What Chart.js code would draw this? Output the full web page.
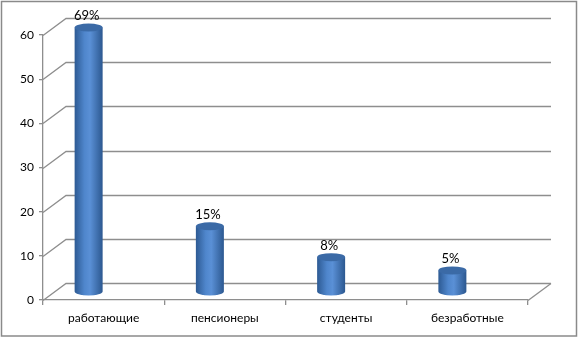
<!DOCTYPE html>
<html>
<head>
<meta charset="utf-8">
<script src="https://cdn.jsdelivr.net/npm/chart.js@4"></script>
<style>
  html, body { margin: 0; padding: 0; background: #fff; }
  #wrap { width: 578px; height: 338px; }
</style>
</head>
<body>
<div id="wrap"><canvas id="chart" width="578" height="338"></canvas></div>
<script>
// data
const categories = ['работающие', 'пенсионеры', 'студенты', 'безработные'];
const values = [69, 15, 8, 5];
const yMax = 60;
const yStep = 10;

const FONT = 'Lato, "Open Sans", sans-serif';
const GRID = '#8e8e8e';
const DX = 23, DY = -17;      // depth offset of the back wall
const BAR_SHIFT = -15, BAR_W = 28;

// 3D walls, gridlines and floor
const wallsPlugin = {
  id: 'walls',
  beforeDatasetsDraw(chart) {
    const { ctx, chartArea: a, scales: { y } } = chart;
    ctx.save();
    ctx.strokeStyle = GRID;
    ctx.lineWidth = 1.3;
    y.ticks.forEach(t => {
      const py = Math.round(y.getPixelForValue(t.value)) + 0.5;
      ctx.beginPath();
      ctx.moveTo(a.left, py);
      ctx.lineTo(a.left + DX, py + DY);
      ctx.lineTo(a.right + DX, py + DY);
      ctx.stroke();
    });
    // right edge of floor
    ctx.beginPath();
    ctx.moveTo(a.right, a.bottom + 0.5);
    ctx.lineTo(a.right + DX, a.bottom + DY + 0.5);
    ctx.stroke();
    ctx.restore();
  }
};

// cylinders and percent labels
const cylPlugin = {
  id: 'cylinders',
  afterDatasetsDraw(chart) {
    const { ctx, scales: { x, y } } = chart;
    const ry = 4;
    ctx.save();
    values.forEach((v, i) => {
      const cx = x.getPixelForValue(i) + BAR_SHIFT;
      const left = cx - BAR_W / 2, right = cx + BAR_W / 2;
      const yb = y.getPixelForValue(0) + DY / 2;
      const yt = y.getPixelForValue(Math.min(v, yMax)) + DY / 2 + 1;
      const g = ctx.createLinearGradient(left, 0, right, 0);
      g.addColorStop(0, '#2d5a93');
      g.addColorStop(0.35, '#4f86cc');
      g.addColorStop(0.55, '#5a90d6');
      g.addColorStop(1, '#2c5890');
      ctx.fillStyle = g;
      ctx.beginPath();
      ctx.moveTo(left, yt);
      ctx.lineTo(left, yb);
      ctx.ellipse(cx, yb, BAR_W / 2, ry, 0, Math.PI, 0, true);
      ctx.lineTo(right, yt);
      ctx.closePath();
      ctx.fill();
      // top cap
      ctx.fillStyle = '#3b6aa6';
      ctx.beginPath();
      ctx.ellipse(cx, yt, BAR_W / 2, ry, 0, 0, Math.PI * 2);
      ctx.fill();
      // label
      ctx.fillStyle = '#000';
      ctx.font = '13px ' + FONT;
      ctx.textAlign = 'center';
      ctx.textBaseline = 'bottom';
      ctx.fillText(v + '%', cx - 2, yt - 5);
    });
    ctx.restore();
  },
  afterDraw(chart) {
    const { ctx } = chart;
    ctx.save();
    ctx.strokeStyle = '#8a8a8a';
    ctx.lineWidth = 1.5;
    ctx.strokeRect(1.5, 1.5, 575, 334.5);
    ctx.restore();
  }
};

new Chart(document.getElementById('chart'), {
  type: 'bar',
  data: {
    labels: categories,
    datasets: [{
      data: values,
      backgroundColor: 'rgba(0,0,0,0)',
      borderWidth: 0
    }]
  },
  options: {
    responsive: false,
    animation: false,
    layout: { padding: { top: 35, right: 50, left: 0, bottom: 0 } },
    plugins: { legend: { display: false }, tooltip: { enabled: false } },
    scales: {
      x: {
        afterFit: s => { s.height = 38; },
        grid: { offset: true, drawOnChartArea: false, tickLength: 5, color: GRID, lineWidth: 1.3 },
        border: { color: GRID, width: 1.3 },
        ticks: { color: '#000', font: { family: FONT, size: 12 }, padding: 6 }
      },
      y: {
        min: 0,
        max: yMax,
        afterFit: s => { s.width = 43; },
        grid: { drawOnChartArea: false, tickLength: 4, color: GRID, lineWidth: 1.3 },
        border: { color: GRID, width: 1.3 },
        ticks: { stepSize: yStep, color: '#000', font: { family: FONT, size: 12 }, padding: 5 }
      }
    }
  },
  plugins: [wallsPlugin, cylPlugin]
});
</script>
</body>
</html>
